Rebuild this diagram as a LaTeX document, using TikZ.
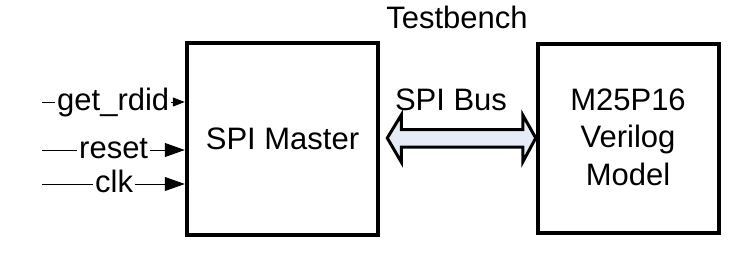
\documentclass[tikz,border=0pt]{standalone}
\usepackage{fontspec}
\setmainfont{Liberation Sans}
\usetikzlibrary{arrows.meta,calc}

\tikzset{
  block/.style={draw, line width=4.5pt, inner sep=0pt, align=center},
  sig/.style={line width=0.9pt},
  sigtip/.style={line width=0.9pt, -{Triangle[length=20pt,width=14pt]}},
  smalltip/.style={line width=0.9pt, -{Triangle[length=12pt,width=9pt]}},
  siglabel/.style={inner xsep=2pt, inner ysep=0pt},
  busarrow/.style={draw, line width=3pt, line join=miter, fill=busfill},
}
\definecolor{busfill}{HTML}{E6ECF7}

\begin{document}
\fontsize{31}{37.5}\selectfont
\begin{tikzpicture}[x=1pt, y=-1pt, font=\fontsize{31}{37.5}\selectfont]
  \useasboundingbox (0,0) rectangle (738,252);

  % blocks
  \node[block, minimum width=191pt, minimum height=192pt] (master) at (282.5,139) {SPI Master};
  \node[block, minimum width=181pt, minimum height=189pt] (model) at (628.5,138.5) {};
  \node[align=center, inner sep=0pt] (modeltext) at (628,137) {M25P16\\Verilog\\Model};

  % titles
  \node[anchor=base, inner sep=0pt] (tb) at (457,28) {Testbench};
  \node[anchor=base, inner sep=0pt] (buslabel) at (451,110) {SPI Bus};

  % input signals
  \coordinate (s1) at (42,102);
  \coordinate (s2) at (42,150);
  \coordinate (s3) at (42,184);
  \node[siglabel, anchor=mid west] (rdid) at (55,102) {get\_rdid};
  \node[siglabel, anchor=mid west] (rst) at (77,150) {reset};
  \node[siglabel, anchor=mid west] (clk) at (93,184) {clk};

  \draw[sig] (s1) -- (rdid.mid west);
  \draw[smalltip] (rdid.mid east) -- (master.west |- rdid.mid east);
  \draw[sig] (s2) -- (rst.mid west);
  \draw[sigtip] (rst.mid east) -- (master.west |- rst.mid east);
  \draw[sig] (s3) -- (clk.mid west);
  \draw[sigtip] (clk.mid east) -- (master.west |- clk.mid east);

  % SPI bus double arrow
  \coordinate (lt) at ($(master.east)+(7,-1)$);
  \coordinate (rt) at ($(model.west)+(0,-0.5)$);
  \draw[busarrow]
    (lt) -- ($(lt)+(14,-23)$) -- ($(lt)+(14,-8.5)$)
    -- ($(rt)+(-13,-8.5)$) -- ($(rt)+(-13,-23)$) -- (rt)
    -- ($(rt)+(-13,24)$) -- ($(rt)+(-13,9)$)
    -- ($(lt)+(14,9)$) -- ($(lt)+(14,24)$) -- cycle;
\end{tikzpicture}
\end{document}
